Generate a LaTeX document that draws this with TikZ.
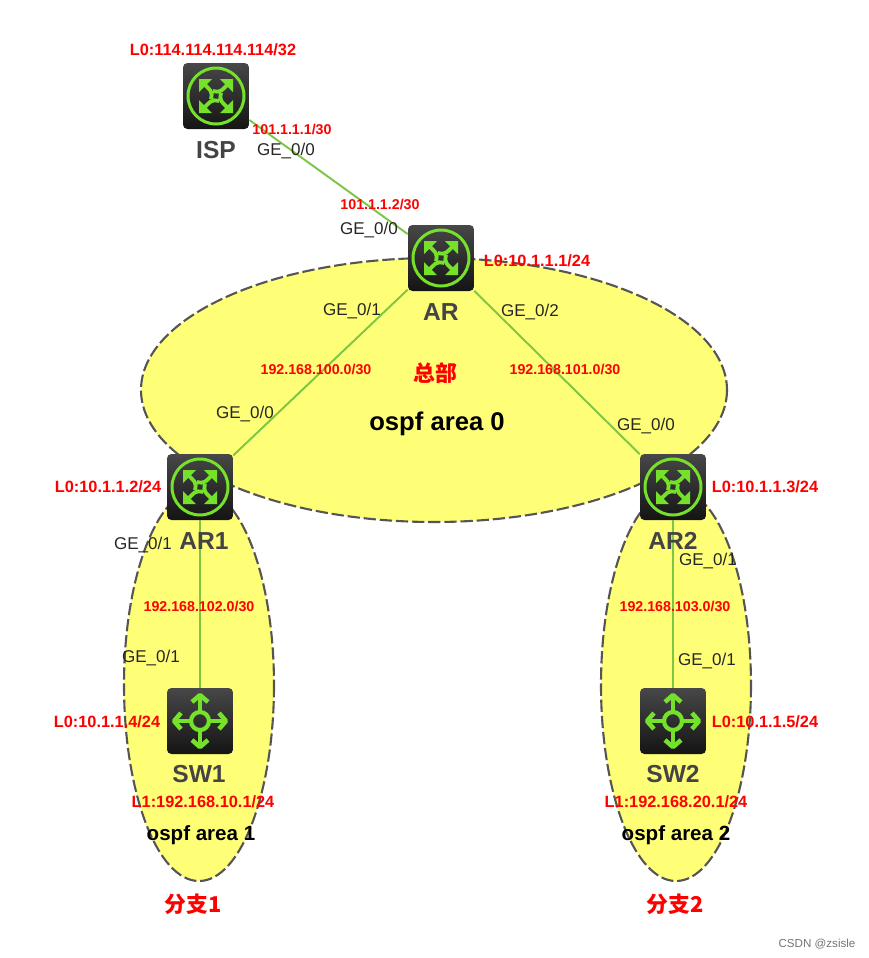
\documentclass[tikz,border=0pt]{standalone}
\usepackage{fontspec}
\setmainfont{Liberation Sans}
\newfontfamily\cjk{Noto Sans CJK SC}
\definecolor{areayellow}{HTML}{FFFF77}
\definecolor{linkgreen}{HTML}{7CC644}
\definecolor{icongreen}{HTML}{76E12B}
\definecolor{areaedge}{HTML}{555555}
\definecolor{namegray}{HTML}{444444}
\begin{document}
\begin{tikzpicture}[x=0.02cm, y=-0.02cm,
        area/.style={draw=areaedge, fill=areayellow, line width=1.2pt, dash pattern=on 7pt off 2.2pt},
        devbox/.style={rectangle, rounded corners=2.5pt, minimum size=1.32cm, inner sep=0pt, top color=black!72, bottom color=black!92},
        link/.style={draw=linkgreen, line width=1.1pt},
        glyph/.style={draw=icongreen, line width=1.7pt},
        addr/.style={text=red, font=\fontsize{9.3}{11}\selectfont\bfseries, inner sep=0pt},
        subnet/.style={text=red, font=\fontsize{8.1}{10}\selectfont\bfseries, inner sep=0pt},
        port/.style={text=black!85, font=\fontsize{9.7}{11}\selectfont, inner sep=0pt},
        devname/.style={text=namegray, font=\fontsize{14}{16}\selectfont\bfseries, inner sep=0pt},
        site/.style={text=red, font=\fontsize{12.4}{15}\selectfont\cjk\bfseries, inner sep=0pt}
    ]
    \useasboundingbox (0,0) rectangle (869,958);

    % Areas
    \draw[area] (434,390) ellipse [x radius=293, y radius=132];
    \draw[area] (199,685) ellipse [x radius=75, y radius=196];
    \draw[area] (676,685) ellipse [x radius=75, y radius=196];

    % Devices
    \node[devbox] (ISP) at (216,96) {};
    \node[devbox] (AR) at (441,258) {};
    \node[devbox] (AR1) at (200,487) {};
    \node[devbox] (AR2) at (673,487) {};
    \node[devbox] (SW1) at (200,721) {};
    \node[devbox] (SW2) at (673,721) {};

    % Links
    \draw[link] (ISP) -- (AR);
    \draw[link] (AR) -- (AR1);
    \draw[link] (AR) -- (AR2);
    \draw[link] (AR1) -- (SW1);
    \draw[link] (AR2) -- (SW2);

    % Router icons
    \foreach \dev in {ISP, AR, AR1, AR2} {
        \draw[glyph] (\dev.center) circle [radius=28];
        \foreach \ang in {0, 90, 180, 270} {
            \begin{scope}[shift={(\dev.center)}, rotate=\ang]
                \draw[glyph, line width=2.2pt] (-11,-11) .. controls (-6,-6) and (-3,-5) .. (-5,3);
                \fill[icongreen] (-17,-17) -- (-4,-17) -- (-17,-4) -- cycle;
            \end{scope}
        }
    }

    % Switch icons
    \foreach \dev in {SW1, SW2} {
        \draw[glyph, line width=2.4pt] (\dev.center) circle [radius=9];
        \foreach \ang in {0, 90, 180, 270} {
            \begin{scope}[shift={(\dev.center)}, rotate=\ang]
                \draw[glyph, line width=2.4pt] (10,0) -- (24,0);
                \draw[glyph, line width=2.6pt, line join=round] (19,-8) -- (26,0) -- (19,8);
            \end{scope}
        }
    }

    % Device names
    \node[devname] (ISPname) at (216,150) {ISP};
    \node[devname] (ARname) at (441,312) {AR};
    \node[devname] (AR1name) at (204,541) {AR1};
    \node[devname] (AR2name) at (673,541) {AR2};
    \node[devname] (SW1name) at (199,774) {SW1};
    \node[devname] (SW2name) at (673,774) {SW2};

    % Addresses
    \node[addr] (loisp) at (213,50) {L0:114.114.114.114/32};
    \node[addr] (loar) at (537,261) {L0:10.1.1.1/24};
    \node[addr] (loar1) at (108,487) {L0:10.1.1.2/24};
    \node[addr] (loar2) at (765,487) {L0:10.1.1.3/24};
    \node[addr] (losw1) at (107,722) {L0:10.1.1.4/24};
    \node[addr] (losw2) at (765,722) {L0:10.1.1.5/24};
    \node[addr] (lbsw1) at (203,802) {L1:192.168.10.1/24};
    \node[addr] (lbsw2) at (676,802) {L1:192.168.20.1/24};

    % Subnets
    \node[subnet] (ispnet) at (292,129) {101.1.1.1/30};
    \node[subnet] (arnet) at (380,204) {101.1.1.2/30};
    \node[subnet] (net100) at (316,369) {192.168.100.0/30};
    \node[subnet] (net101) at (565,369) {192.168.101.0/30};
    \node[subnet] (net102) at (199,606) {192.168.102.0/30};
    \node[subnet] (net103) at (675,606) {192.168.103.0/30};

    % Ports
    \node[port] (p1) at (286,151) {GE\_0/0};
    \node[port] (p2) at (369,230) {GE\_0/0};
    \node[port] (p3) at (352,311) {GE\_0/1};
    \node[port] (p4) at (530,312) {GE\_0/2};
    \node[port] (p5) at (245,414) {GE\_0/0};
    \node[port] (p6) at (646,426) {GE\_0/0};
    \node[port] (p7) at (143,545) {GE\_0/1};
    \node[port] (p8) at (708,561) {GE\_0/1};
    \node[port] (p9) at (151,658) {GE\_0/1};
    \node[port] (p10) at (707,661) {GE\_0/1};

    % Area names
    \node[site] (hq) at (435,373) {总部};
    \node[text=black, font=\fontsize{14.6}{17}\selectfont\bfseries, inner sep=0pt] (area0) at (437,424) {ospf area 0};
    \node[text=black, font=\fontsize{11.7}{14}\selectfont\bfseries, inner sep=0pt] (area1) at (201,835) {ospf area 1};
    \node[text=black, font=\fontsize{11.7}{14}\selectfont\bfseries, inner sep=0pt] (area2) at (676,835) {ospf area 2};
    \node[site] (br1) at (193,904) {分支1};
    \node[site] (br2) at (675,904) {分支2};

    \node[text=black!55, font=\fontsize{6.6}{8}\selectfont, inner sep=0pt] (mark) at (817,944) {CSDN @zsisle};
\end{tikzpicture}
\end{document}
